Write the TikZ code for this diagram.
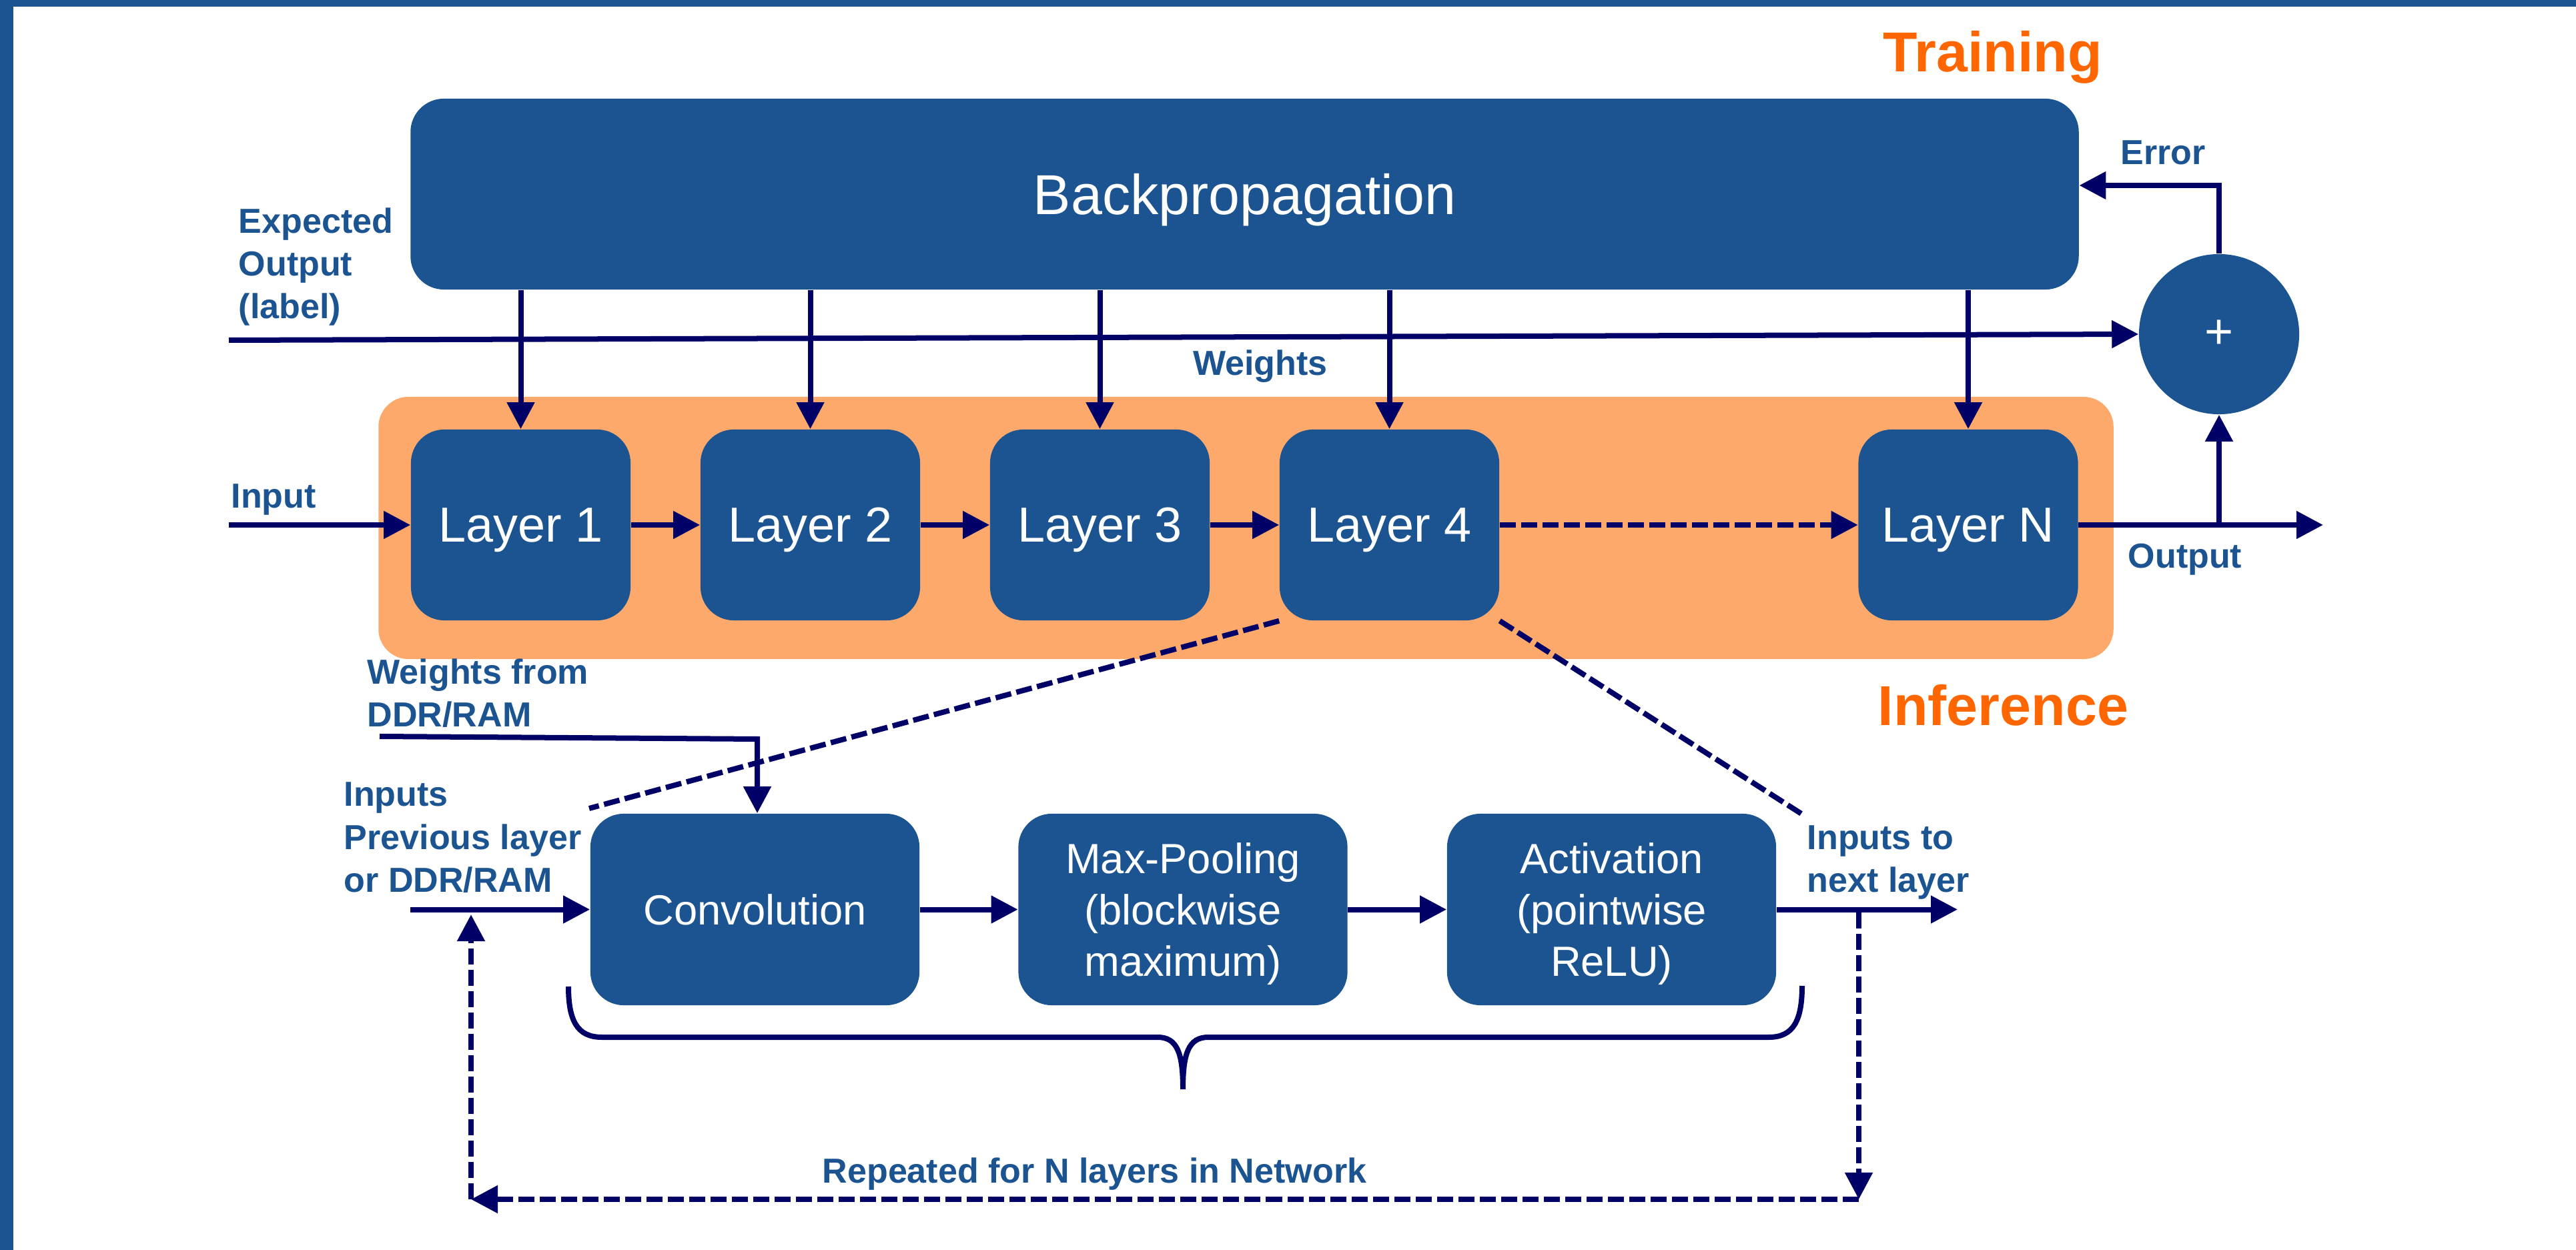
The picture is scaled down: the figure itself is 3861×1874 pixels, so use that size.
\documentclass[tikz,border=0pt]{standalone}
\usepackage{fontspec}
\setmainfont{Liberation Sans}
\usetikzlibrary{arrows.meta,calc}
\definecolor{boxblue}{RGB}{27,84,145}
\definecolor{wirenavy}{RGB}{0,0,102}
\definecolor{bandorange}{RGB}{253,169,108}
\definecolor{titleorange}{RGB}{255,102,0}
\begin{document}
\begin{tikzpicture}[x=0.01cm,y=-0.01cm,
  block/.style={fill=boxblue, draw=none, rounded corners=0.5cm, text=white,
    inner sep=0, align=center, text depth=0pt},
  layerbox/.style={block, minimum width=3.29cm, minimum height=2.86cm,
    font=\fontsize{21}{25}\selectfont},
  stagebox/.style={block, minimum width=4.93cm, minimum height=2.87cm,
    font=\fontsize{18}{21.9}\selectfont},
  lbl/.style={inner sep=0, align=left, text=boxblue,
    font=\bfseries\fontsize{14.8}{18.2}\selectfont},
  title/.style={inner sep=0, text=titleorange,
    font=\bfseries\fontsize{24}{29}\selectfont},
  wire/.style={draw=wirenavy, line width=0.08cm},
  arr/.style={wire, -{Triangle[length=0.4cm,width=0.4cm]}},
  dashline/.style={dash pattern=on 0.24cm off 0.08cm},
]
\useasboundingbox (0,0) rectangle (3861,1874);
% frame bars
\fill[boxblue] (0,0) rectangle (3861,10);
\fill[boxblue] (0,0) rectangle (20,1874);

% inference band
\node[fill=bandorange, rounded corners=0.45cm, inner sep=0,
  minimum width=25.99cm, minimum height=3.93cm] (band) at (1867.5,791.5) {};

% main blocks
\node[block, minimum width=24.99cm, minimum height=2.86cm,
  font=\fontsize{24}{29}\selectfont] (bp) at (1865.5,291) {Backpropagation};
\node[layerbox] (L1) at (780.5,787) {Layer 1};
\node[layerbox] (L2) at (1214.5,787) {Layer 2};
\node[layerbox] (L3) at (1648.5,787) {Layer 3};
\node[layerbox] (L4) at (2082.5,787) {Layer 4};
\node[layerbox] (LN) at (2950,787) {Layer N};
\node[circle, fill=boxblue, minimum size=2.4cm, inner sep=0, text=white,
  font=\fontsize{21}{25}\selectfont] (sum) at (3326,501) {+};

\node[stagebox] (conv) at (1131.5,1363.5) {Convolution};
\node[stagebox] (pool) at (1773,1363.5) {Max-Pooling\\(blockwise\\maximum)};
\node[stagebox] (act) at (2415.5,1363.5) {Activation\\(pointwise\\ReLU)};

% titles and labels (multi-line labels are placed by their last baseline)
\node[title, anchor=base west] (ttrain) at (2822,108) {Training};
\node[title, anchor=base west] (tinf) at (2814,1088) {Inference};
\node[lbl, anchor=base west] (lexp) at (357,478) {Expected\\Output\\(label)};
\node[lbl, anchor=base west] (lerr) at (3178,247) {Error};
\node[lbl, anchor=base] (lw) at (1889,563) {Weights};
\node[lbl, anchor=base west] (lin) at (346,762) {Input};
\node[lbl, anchor=base west] (lout) at (3189,852) {Output};
\node[lbl, anchor=base west] (lwd) at (550,1090) {Weights from\\DDR/RAM};
\node[lbl, anchor=base west] (linp) at (515,1337) {Inputs\\Previous layer\\or DDR/RAM};
\node[lbl, anchor=base west] (lnext) at (2708,1337) {Inputs to\\next layer};
\node[lbl, anchor=base west] (lrep) at (1232,1773) {Repeated for N layers in Network};

% training connectors
\coordinate (expsrc) at (343,510);
\draw[arr] (expsrc) -- (sum.west);
\foreach \L in {L1,L2,L3,L4,LN}
  \draw[arr] (\L.north |- bp.south) -- (\L.north);
\draw[arr] (sum.north) |- ([yshift=0.13cm]bp.east);

% inference chain
\coordinate (insrc) at (343,787);
\draw[arr] (insrc) -- (L1.west);
\draw[arr] (L1.east) -- (L2.west);
\draw[arr] (L2.east) -- (L3.west);
\draw[arr] (L3.east) -- (L4.west);
\draw[arr, dashline] (L4.east) -- (LN.west);
\coordinate (outend) at (3482,787);
\coordinate (tap) at (3326,787);
\draw[arr] (LN.east) -- (outend);
\draw[arr] (tap) -- (sum.south);

% zoom-in lines from layer 4
\draw[wire, dashline] (L4.south west) -- (883,1212);
\draw[wire, dashline] (L4.south east) -- (2700,1220);

% layer internals
\coordinate (wsrc) at (569,1104);
\coordinate (wbend) at (1135,1108);
\draw[arr] (wsrc) -- (wbend) -- (wbend |- conv.north);
\coordinate (prevsrc) at (615,1363.5);
\draw[arr] (prevsrc) -- (conv.west);
\draw[arr] (conv.east) -- (pool.west);
\draw[arr] (pool.east) -- (act.west);
\coordinate (nextend) at (2934,1363.5);
\draw[arr] (act.east) -- (nextend);

% repeat loop
\coordinate (loopR) at (2786,1368);
\coordinate (loopRB) at (2786,1798);
\coordinate (loopLB) at (706,1798);
\coordinate (loopL) at (706,1371);
\draw[arr, dashline] (loopR) -- (loopRB);
\draw[arr, dashline] (loopRB) -- (loopLB);
\draw[arr, dashline] (loopLB) -- (loopL);

% brace under the three stages
\draw[wire] (852,1479) .. controls (852,1530) and (865,1555) .. (902,1555)
  -- (1735,1555) .. controls (1765,1555) and (1773,1580) .. (1773,1633)
  .. controls (1773,1580) and (1781,1555) .. (1811,1555)
  -- (2651,1555) .. controls (2688,1555) and (2701,1530) .. (2701,1478);
\end{tikzpicture}
\end{document}
